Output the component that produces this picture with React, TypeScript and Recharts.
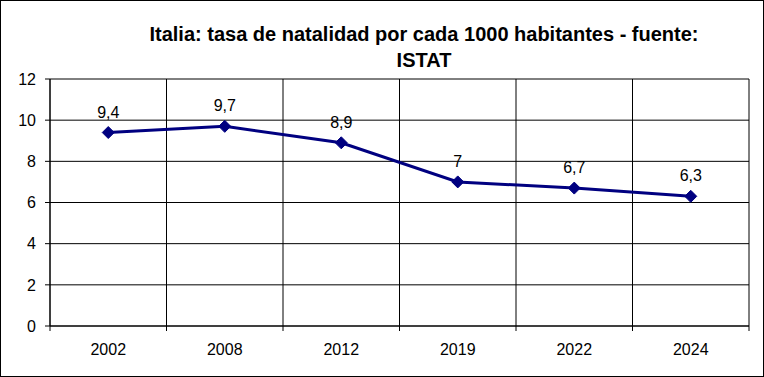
import { CartesianGrid, LabelList, Line, LineChart, XAxis, YAxis } from 'recharts'

const years = ['2002', '2008', '2012', '2019', '2022', '2024']
const birthRate = [9.4, 9.7, 8.9, 7, 6.7, 6.3]
const yTicks = [0, 2, 4, 6, 8, 10, 12]
// category boundaries: vertical grid lines and the small x tick marks sit here
const bandEdges = [-0.5, 0.5, 1.5, 2.5, 3.5, 4.5, 5.5]

const data = years.map((year, i) => ({ i, year, value: birthRate[i] }))

const NAVY = '#000080'
const FONT = 'Arial, "Liberation Sans", sans-serif'

/** Filled diamond marker like the old Excel series marker. */
function Diamond(props: { cx?: number; cy?: number }) {
  const { cx, cy } = props
  if (cx == null || cy == null) return null
  const r = 6
  return (
    <polygon
      points={`${cx},${cy - r} ${cx + r},${cy} ${cx},${cy + r} ${cx - r},${cy}`}
      fill={NAVY}
      stroke={NAVY}
    />
  )
}

export default function App() {
  return (
    <div style={{ position: 'absolute', left: 0, top: 0, width: 764, height: 377, background: '#fff', fontFamily: FONT }}>
      <LineChart
        width={764}
        height={377}
        data={data}
        margin={{ top: 79, right: 15, bottom: 0, left: 0 }}
        style={{ position: 'absolute', left: 0, top: 0 }}
      >
        <CartesianGrid xAxisId="years" stroke="#000" verticalValues={bandEdges} />
        {/* tick marks only, at the category boundaries */}
        <XAxis
          xAxisId="edges"
          dataKey="i"
          type="number"
          domain={[-0.5, 5.5]}
          allowDataOverflow
          ticks={bandEdges}
          interval={0}
          tickFormatter={() => ''}
          tickSize={5}
          height={5}
          axisLine={{ stroke: '#000' }}
          tickLine={{ stroke: '#000' }}
        />
        <XAxis
          xAxisId="years"
          dataKey="i"
          type="number"
          domain={[-0.5, 5.5]}
          allowDataOverflow
          ticks={data.map((d) => d.i)}
          interval={0}
          tickFormatter={(v: number) => years[v]}
          axisLine={false}
          tickLine={false}
          tickSize={0}
          tickMargin={13}
          height={46}
          tick={{ fill: '#000', fontSize: 16, fontFamily: FONT }}
        />
        <YAxis
          domain={[0, 12]}
          ticks={yTicks}
          width={50}
          tickSize={5}
          tickMargin={9}
          axisLine={{ stroke: '#000' }}
          tickLine={{ stroke: '#000' }}
          tick={{ fill: '#000', fontSize: 16, fontFamily: FONT }}
        />
        <Line
          xAxisId="years"
          type="linear"
          dataKey="value"
          stroke={NAVY}
          strokeWidth={3}
          dot={<Diamond />}
          activeDot={false}
          isAnimationActive={false}
        >
          <LabelList
            dataKey="value"
            position="top"
            offset={15}
            formatter={(v: number) => String(v).replace('.', ',')}
            style={{ fill: '#000', fontSize: 16, fontFamily: FONT }}
          />
        </Line>
      </LineChart>
      <div
        style={{
          position: 'absolute',
          left: 124,
          width: 600,
          top: 21,
          textAlign: 'center',
          fontWeight: 'bold',
          fontSize: 20,
          lineHeight: '26px',
          whiteSpace: 'nowrap',
        }}
      >
        Italia: tasa de natalidad por cada 1000 habitantes - fuente:
        <br />
        ISTAT
      </div>
      <div
        style={{
          position: 'absolute',
          left: 0,
          top: 0,
          width: 764,
          height: 377,
          boxSizing: 'border-box',
          border: '1px solid #000',
          pointerEvents: 'none',
        }}
      />
    </div>
  )
}
